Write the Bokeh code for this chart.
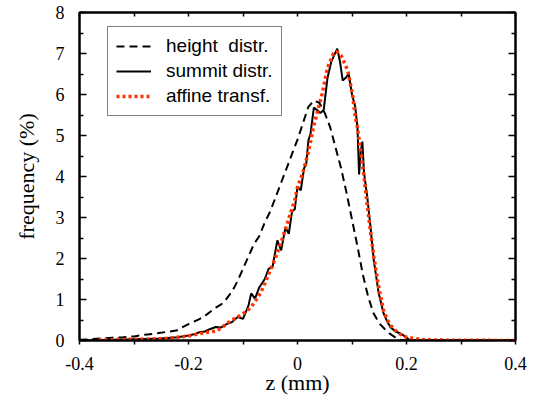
from bokeh.plotting import figure
from bokeh.models import Range1d, LinearAxis, FixedTicker, Legend, LegendItem
from bokeh.embed import file_html
from bokeh.resources import INLINE

# ---- data ----
height_x = [-0.40, -0.38, -0.36, -0.34, -0.32, -0.30, -0.28, -0.26, -0.24, -0.22,
            -0.21, -0.20, -0.19, -0.18, -0.17, -0.16, -0.15, -0.14, -0.13, -0.12,
            -0.11, -0.10, -0.09, -0.08, -0.07, -0.06, -0.05, -0.04, -0.03, -0.02,
            -0.01, 0.00, 0.01, 0.02, 0.03, 0.04, 0.05, 0.06, 0.07, 0.08,
            0.09, 0.10, 0.11, 0.12, 0.13, 0.14, 0.15, 0.16, 0.17, 0.18,
            0.19, 0.20, 0.30, 0.40]
height_y = [0.02, 0.03, 0.05, 0.07, 0.08, 0.10, 0.14, 0.17, 0.21, 0.25,
            0.33, 0.40, 0.46, 0.52, 0.60, 0.70, 0.80, 0.88, 1.02, 1.20,
            1.45, 1.75, 2.05, 2.35, 2.55, 2.88, 3.15, 3.50, 3.85, 4.20,
            4.55, 4.90, 5.30, 5.70, 5.85, 5.80, 5.55, 5.20, 4.70, 4.20,
            3.60, 2.95, 2.30, 1.60, 1.05, 0.65, 0.42, 0.28, 0.16, 0.07,
            0.02, 0.00, 0.00, 0.00]

summit_x = [-0.40, -0.35, -0.30, -0.27, -0.25, -0.22, -0.20, -0.19, -0.18, -0.17,
            -0.16, -0.15, -0.14, -0.13, -0.12, -0.11, -0.10, -0.09, -0.085, -0.078,
            -0.07, -0.06, -0.053, -0.046, -0.037, -0.030, -0.022, -0.016, -0.010, -0.005,
            0.000, 0.006, 0.012, 0.016, 0.020, 0.024, 0.030, 0.036, 0.042, 0.048,
            0.055, 0.062, 0.067, 0.073, 0.078, 0.083, 0.088, 0.094, 0.100, 0.106,
            0.110, 0.113, 0.116, 0.119, 0.122, 0.128, 0.134, 0.140, 0.149, 0.158,
            0.165, 0.171, 0.180, 0.189, 0.195, 0.200, 0.205, 0.210, 0.300, 0.400]
summit_y = [0.00, 0.01, 0.03, 0.04, 0.05, 0.08, 0.12, 0.15, 0.20, 0.22,
            0.28, 0.33, 0.32, 0.40, 0.45, 0.57, 0.53, 0.85, 1.15, 1.02,
            1.30, 1.50, 1.75, 1.78, 2.44, 2.20, 2.76, 2.60, 3.15, 3.20,
            3.75, 3.66, 4.20, 4.30, 4.88, 5.05, 5.68, 5.62, 5.55, 5.62,
            6.40, 6.80, 6.95, 7.12, 6.80, 6.34, 6.40, 6.50, 6.00, 5.70,
            5.20, 4.05, 4.60, 4.85, 4.10, 3.50, 2.76, 1.95, 1.15, 0.66,
            0.45, 0.32, 0.22, 0.17, 0.12, 0.07, 0.02, 0.00, 0.00, 0.00]

affine_x = [-0.365, -0.34, -0.30, -0.26, -0.24, -0.22, -0.20, -0.185, -0.17, -0.15,
            -0.14, -0.13, -0.12, -0.105, -0.095, -0.086, -0.077, -0.068, -0.059, -0.05,
            -0.04, -0.031, -0.022, -0.013, -0.005, 0.000, 0.010, 0.020, 0.030, 0.037,
            0.045, 0.055, 0.066, 0.072, 0.080, 0.092, 0.101, 0.106, 0.110, 0.116,
            0.122, 0.128, 0.134, 0.140, 0.149, 0.158, 0.165, 0.171, 0.183, 0.195,
            0.213, 0.230, 0.260, 0.400]
affine_y = [0.02, 0.02, 0.03, 0.04, 0.05, 0.08, 0.11, 0.15, 0.19, 0.23,
            0.30, 0.41, 0.50, 0.61, 0.70, 0.80, 0.97, 1.15, 1.42, 1.71,
            2.03, 2.36, 2.72, 3.10, 3.42, 3.74, 4.10, 4.60, 5.25, 5.60,
            6.00, 6.65, 7.00, 7.05, 6.95, 6.59, 6.00, 5.45, 5.20, 4.60,
            4.00, 3.30, 2.65, 2.05, 1.30, 0.73, 0.50, 0.37, 0.20, 0.10,
            0.05, 0.02, 0.01, 0.00]

x_ticks = [-0.4, -0.2, 0.0, 0.2, 0.4]
x_tick_labels = ["-0.4", "-0.2", "0", "0.2", "0.4"]
x_minor = [-0.3, -0.1, 0.1, 0.3]
y_ticks = [0, 1, 2, 3, 4, 5, 6, 7, 8]
y_minor = [0.5, 1.5, 2.5, 3.5, 4.5, 5.5, 6.5, 7.5]
labels = ["height  distr.", "summit distr.", "affine transf."]

# ---- figure ----
p = figure(width=528, height=400, output_backend="svg", toolbar_location=None,
           x_range=Range1d(-0.4, 0.4), y_range=Range1d(0, 8),
           min_border_left=79, min_border_right=13, min_border_top=12,
           min_border_bottom=60, x_axis_location=None, y_axis_location=None)
p.xgrid.visible = False
p.ygrid.visible = False
p.outline_line_color = "black"
p.outline_line_width = 2
p.background_fill_color = "white"
p.border_fill_color = "white"

serif = "Liberation Serif"

def style(ax, tin, tout, mtin, mtout):
    ax.axis_line_width = 2
    ax.axis_line_color = "black"
    ax.major_tick_line_width = 1.5
    ax.minor_tick_line_width = 1.5
    ax.major_tick_in = tin
    ax.major_tick_out = tout
    ax.minor_tick_in = mtin
    ax.minor_tick_out = mtout
    ax.major_label_text_font = serif
    ax.major_label_text_font_size = "18px"
    ax.major_label_text_color = "black"
    ax.axis_label_text_font = serif
    ax.axis_label_text_font_size = "22px"
    ax.axis_label_text_font_style = "normal"
    ax.axis_label_text_color = "black"

xt = FixedTicker(ticks=x_ticks, minor_ticks=x_minor)
yt = FixedTicker(ticks=y_ticks, minor_ticks=y_minor)

bottom = LinearAxis(ticker=xt, axis_label="z (mm)")
style(bottom, 0, 4, 0, 4)
bottom.major_label_overrides = {t: s for t, s in zip(x_ticks, x_tick_labels)}
bottom.major_label_standoff = 12
bottom.axis_label_standoff = -3
p.add_layout(bottom, "below")

left = LinearAxis(ticker=yt, axis_label="frequency (%)")
style(left, 7, 0, 4, 0)
left.major_label_standoff = 15
left.axis_label_standoff = 14
p.add_layout(left, "left")

top = LinearAxis(ticker=xt)
style(top, 4, 0, 4, 0)
top.major_label_overrides = {t: "" for t in x_ticks}
top.major_label_text_font_size = "8px"
top.major_label_standoff = 0
p.add_layout(top, "above")

right = LinearAxis(ticker=yt)
style(right, 7, 0, 4, 0)
right.major_label_overrides = {t: "" for t in y_ticks}
right.major_label_text_font_size = "8px"
right.major_label_standoff = 0
p.add_layout(right, "right")

r1 = p.line(height_x, height_y, line_color="black", line_width=2, line_dash="8 5")
r2 = p.line(summit_x, summit_y, line_color="black", line_width=2)
r3 = p.line(affine_x, affine_y, line_color="#ff3300", line_width=3.5, line_dash="3 3")

legend = Legend(items=[LegendItem(label=labels[0], renderers=[r1]),
                       LegendItem(label=labels[1], renderers=[r2]),
                       LegendItem(label=labels[2], renderers=[r3])],
                location=(28, 224))
legend.label_text_font = "Liberation Sans"
legend.label_text_font_size = "19px"
legend.label_text_color = "black"
legend.glyph_width = 35
legend.glyph_height = 20
legend.label_height = 20
legend.spacing = 3
legend.label_standoff = 15
legend.padding = 8
legend.margin = 0
legend.border_line_color = "black"
legend.border_line_width = 1.5
legend.background_fill_alpha = 1
p.add_layout(legend, "center")

open("out.html", "w").write(file_html(p, INLINE))
